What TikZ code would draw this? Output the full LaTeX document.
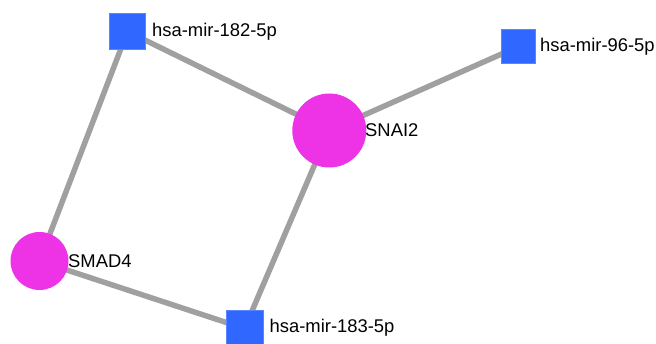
\documentclass[tikz,border=0pt]{standalone}
\usepackage{fontspec}
\setmainfont{Liberation Sans}
\definecolor{mirblue}{RGB}{48,104,255}
\definecolor{genemag}{RGB}{238,50,230}
\definecolor{edgegray}{RGB}{160,160,160}
\pgfdeclarelayer{bg}
\pgfsetlayers{bg,main}
\tikzset{
  mir/.style={rectangle, fill=mirblue, draw=mirblue!80!white, line width=0.6pt, minimum size=36pt, inner sep=0pt},
  gene/.style={circle, fill=genemag, inner sep=0pt},
  lbl/.style={anchor=west, inner sep=0pt, font=\fontsize{18.4}{21}\selectfont},
  edge/.style={draw=edgegray, line width=5.5pt}
}
\begin{document}
\begin{tikzpicture}[x=1pt,y=1pt]
\useasboundingbox (0,0) rectangle (656,344);
\node[mir] (m182) at (127.5,312.5) {};
\node[mir, minimum size=34pt] (m96) at (518,297.3) {};
\node[gene, minimum size=74pt] (snai2) at (329.3,213.5) {};
\node[gene, minimum size=58pt] (smad4) at (39.5,83) {};
\node[mir, minimum size=37pt] (m183) at (244.5,15.5) {};
\begin{pgfonlayer}{bg}
\path[edge] (m182.center) -- (snai2.center);
\path[edge] (m182.center) -- (smad4.center);
\path[edge] (m96.center) -- (snai2.center);
\path[edge] (snai2.center) -- (m183.center);
\path[edge] (smad4.center) -- (m183.center);
\end{pgfonlayer}
\node[lbl] (t182) at (152,312.5) {hsa-mir-182-5p};
\node[lbl] (t96) at (540,297.3) {hsa-mir-96-5p};
\node[lbl] (tsnai2) at (365,214) {SNAI2};
\node[lbl] (tsmad4) at (68,83.3) {SMAD4};
\node[lbl] (t183) at (269.5,16) {hsa-mir-183-5p};
\end{tikzpicture}
\end{document}
